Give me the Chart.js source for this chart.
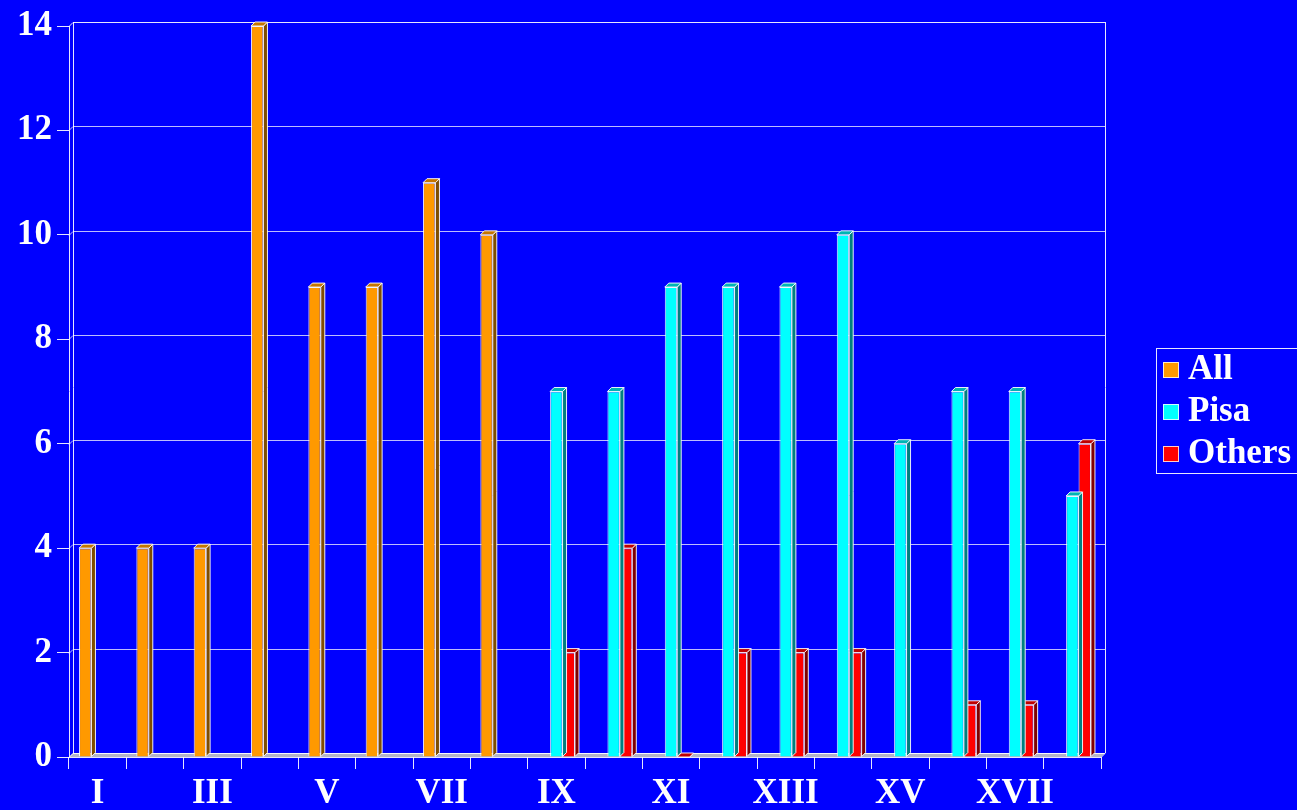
<!DOCTYPE html>
<html>
<head>
<meta charset="utf-8">
<title>All / Pisa / Others</title>
<script src="https://cdn.jsdelivr.net/npm/chart.js@4/dist/chart.umd.min.js"></script>
<style>
  html, body { margin: 0; padding: 0; background: #0000ff; overflow: hidden; }
  canvas { display: block; }
</style>
</head>
<body>
<canvas id="chart" width="1297" height="810"></canvas>
<script>
// Categories (roman numerals) and the three series
const categories = ['I','II','III','IV','V','VI','VII','VIII','IX','X','XI','XII','XIII','XIV','XV','XVI','XVII','XVIII'];
const allValues    = [4, 4, 4, 14, 9, 9, 11, 10, null, null, null, null, null, null, null, null, null, null];
const pisaValues   = [null, null, null, null, null, null, null, null, 7, 7, 9, 9, 9, 10, 6, 7, 7, 5];
const otherValues  = [null, null, null, null, null, null, null, null, 2, 4, 0, 2, 2, 2, null, 1, 1, 6];
const seriesNames  = ['All', 'Pisa', 'Others'];
const yTicks       = [0, 2, 4, 6, 8, 10, 12, 14];

// Face colours: front, side, top
const palette = [
  { front: '#ff9900', side: '#7f4d00', top: '#c47500' },
  { front: '#00ffff', side: '#008080', top: '#00b4b4' },
  { front: '#ff0000', side: '#800000', top: '#c00000' }
];
const DEPTH = 4;               // oblique depth of the 3D box, in pixels
const FONT = { family: "'Liberation Serif', 'Times New Roman', serif", size: 35, weight: 'bold' };
const LINE = 'rgba(255,255,255,0.9)';

// Back wall, left wall and floor of the 3D frame
const framePlugin = {
  id: 'frame3d',
  beforeDatasetsDraw(chart) {
    const { ctx, chartArea: a, scales: { y } } = chart;
    const d = DEPTH;
    ctx.save();
    ctx.lineWidth = 1;
    // floor
    ctx.fillStyle = '#b4b4c8';
    ctx.beginPath();
    ctx.moveTo(a.left, a.bottom);
    ctx.lineTo(a.right, a.bottom);
    ctx.lineTo(a.right + d, a.bottom - d);
    ctx.lineTo(a.left + d, a.bottom - d);
    ctx.closePath();
    ctx.fill();
    // horizontal grid lines on the back wall, joined to the left wall
    yTicks.forEach(v => {
      const py = Math.round(y.getPixelForValue(v)) + 0.5;
      ctx.strokeStyle = v === 0 || v === 14 ? LINE : 'rgba(235,235,255,0.8)';
      ctx.beginPath();
      ctx.moveTo(a.left, py);
      ctx.lineTo(a.left + d, py - d);
      ctx.lineTo(a.right + d, py - d);
      ctx.stroke();
    });
    // wall edges
    ctx.strokeStyle = LINE;
    ctx.beginPath();
    ctx.moveTo(a.left + 0.5, a.top);
    ctx.lineTo(a.left + 0.5, a.bottom);
    ctx.moveTo(a.left + d + 0.5, a.top - d);
    ctx.lineTo(a.left + d + 0.5, a.bottom - d);
    ctx.moveTo(a.right + d + 0.5, a.top - d);
    ctx.lineTo(a.right + d + 0.5, a.bottom - d);
    ctx.moveTo(a.right, a.bottom + 0.5);
    ctx.lineTo(a.right + d, a.bottom - d + 0.5);
    ctx.stroke();
    // front edge of the floor
    ctx.beginPath();
    ctx.moveTo(a.left, Math.round(a.bottom) + 0.5);
    ctx.lineTo(a.right, Math.round(a.bottom) + 0.5);
    ctx.stroke();
    ctx.restore();
  }
};

// Side and top faces of each bar, drawn after that dataset's front faces
const barDepthPlugin = {
  id: 'bars3d',
  afterDatasetDraw(chart, args) {
    const { ctx } = chart;
    const i = args.index;
    const col = palette[i];
    const ds = chart.data.datasets[i];
    const d = DEPTH;
    ctx.save();
    ctx.lineWidth = 1;
    ctx.strokeStyle = LINE;
    args.meta.data.forEach((el, j) => {
      if (ds.data[j] === null || ds.data[j] === undefined) return;
      const { x, y, base, width } = el.getProps(['x', 'y', 'base', 'width'], true);
      const l = x - width / 2, r = x + width / 2;
      // side
      ctx.fillStyle = col.side;
      ctx.beginPath();
      ctx.moveTo(r, y);
      ctx.lineTo(r + d, y - d);
      ctx.lineTo(r + d, base - d);
      ctx.lineTo(r, base);
      ctx.closePath();
      ctx.fill();
      ctx.stroke();
      // top
      ctx.fillStyle = col.top;
      ctx.beginPath();
      ctx.moveTo(l, y);
      ctx.lineTo(l + d, y - d);
      ctx.lineTo(r + d, y - d);
      ctx.lineTo(r, y);
      ctx.closePath();
      ctx.fill();
      ctx.stroke();
    });
    ctx.restore();
  }
};

// Boxed legend at the right edge
const legendPlugin = {
  id: 'boxLegend',
  afterDraw(chart) {
    const { ctx } = chart;
    ctx.save();
    ctx.strokeStyle = LINE;
    ctx.lineWidth = 1;
    ctx.strokeRect(1156.5, 348.5, 170, 125);
    ctx.font = `${FONT.weight} ${FONT.size}px ${FONT.family}`;
    ctx.textBaseline = 'alphabetic';
    ctx.textAlign = 'left';
    chart.data.datasets.forEach((ds, i) => {
      const baseline = 379 + i * 42;
      ctx.fillStyle = ds.backgroundColor;
      ctx.fillRect(1163, baseline - 17, 16, 16);
      ctx.strokeStyle = 'rgba(255,255,255,0.8)';
      ctx.strokeRect(1163.5, baseline - 16.5, 15, 15);
      ctx.fillStyle = '#ffffff';
      ctx.fillText(ds.label, 1188, baseline);
    });
    ctx.restore();
  }
};

const seriesData = [allValues, pisaValues, otherValues];

new Chart(document.getElementById('chart'), {
  type: 'bar',
  data: {
    labels: categories,
    datasets: seriesData.map((values, i) => ({
      label: seriesNames[i],
      data: values,
      backgroundColor: palette[i].front,
      borderColor: LINE,
      borderWidth: 1,
      categoryPercentage: 0.65,
      barPercentage: 1.0
    }))
  },
  options: {
    responsive: false,
    animation: false,
    devicePixelRatio: 1,
    layout: { padding: { top: 25, right: 196, left: 0, bottom: 0 } },
    plugins: { legend: { display: false }, tooltip: { enabled: false } },
    scales: {
      x: {
        offset: true,
        grid: { display: true, offset: true, drawOnChartArea: false, drawTicks: true, tickLength: 12, color: LINE },
        border: { display: false },
        ticks: {
          autoSkip: false,
          maxRotation: 0,
          padding: 4,
          color: '#ffffff',
          font: FONT,
          callback: (v, i) => (i % 2 === 0 ? categories[i] : '')
        },
        afterFit: s => { s.height = 53; }
      },
      y: {
        min: 0,
        max: 14,
        grid: { display: true, drawOnChartArea: false, drawTicks: true, tickLength: 12, color: LINE },
        border: { display: false },
        ticks: { stepSize: 2, padding: 5, color: '#ffffff', font: FONT },
        afterFit: s => { s.width = 69; }
      }
    }
  },
  plugins: [framePlugin, barDepthPlugin, legendPlugin]
});
</script>
</body>
</html>
